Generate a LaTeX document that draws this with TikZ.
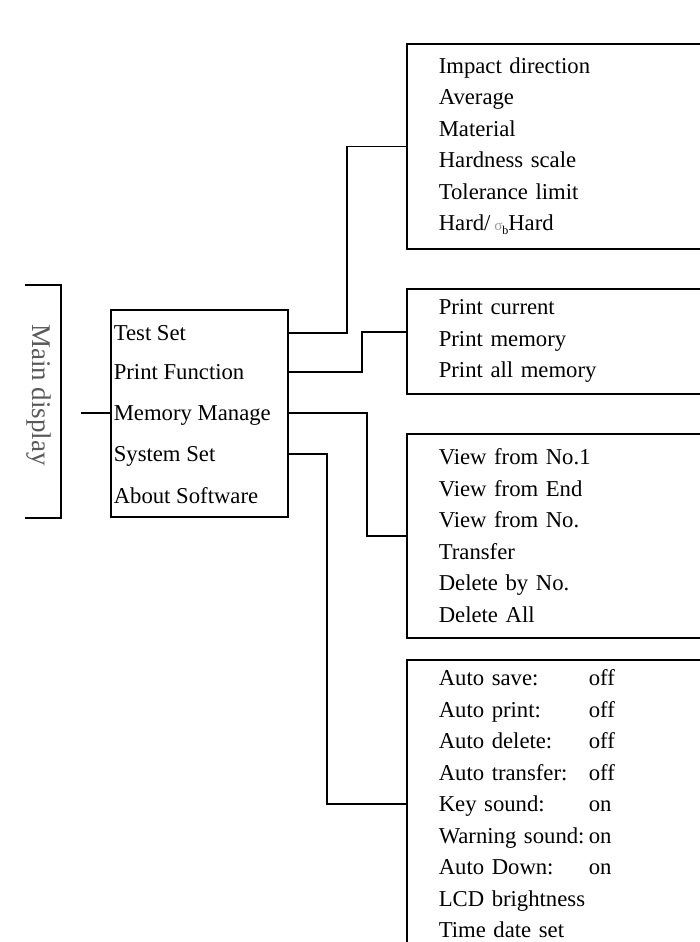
\documentclass[tikz,border=0pt]{standalone}
\usepackage{fontspec}
\setmainfont{Liberation Serif}
\usetikzlibrary{positioning}
\newcommand{\kv}[2]{\makebox[150pt][l]{#1}#2}

\begin{document}
\begin{tikzpicture}[x=1pt,y=-1pt,line width=1.6pt,
	every node/.style={font=\fontsize{22.7}{31.5}\selectfont,inner sep=0pt},
	menubox/.style={draw,anchor=north west,minimum width=177pt,minimum height=207pt},
	row/.style={anchor=west,text height=15.5pt,text depth=0pt},
	subbox/.style={draw,anchor=north west,align=left,text width=250pt,inner xsep=32pt,minimum width=314pt}]
	\useasboundingbox[fill=white] (0,0) rectangle (699,942);
	\node[rotate=-90,text=black!65,font=\fontsize{27}{27}\selectfont] (md) at (39,395) {Main display};
	\draw (25,285) -| (61,518) -- (25,518);
	\node[menubox] (menu) at (110,309) {};
	\node[row] (ts) at (113,333) {Test Set};
	\node[row] (pf) at (113,372) {Print Function};
	\node[row] (mm) at (113,413) {Memory Manage};
	\node[row] (ss) at (113,454) {System Set};
	\node[row] (as) at (113,496) {About Software};
	\coordinate (lead) at (81,413);
	\draw (lead) -- (lead -| menu.west);
	\node[subbox,minimum height=205pt] (tset) at (406,43) {Impact direction\\ Average\\ Material\\ Hardness scale\\ Tolerance limit\\ Hard/\,{\color{black!40}\fontsize{15}{15}\selectfont σ}\raisebox{-4pt}{\fontsize{12}{12}\selectfont b}Hard};
	\node[subbox,minimum height=105pt] (prt) at (406,288) {Print current\\ Print memory\\ Print all memory};
	\node[subbox,minimum height=204pt] (mem) at (406,433) {View from No.1\\ View from End\\ View from No.\\ Transfer\\ Delete by No.\\ Delete All};
	\node[subbox,minimum height=288pt] (sys) at (406,659) {\kv{Auto save:}{off}\\ \kv{Auto print:}{off}\\ \kv{Auto delete:}{off}\\ \kv{Auto transfer:}{off}\\ \kv{Key sound:}{on}\\ \kv{Warning sound:}{on}\\ \kv{Auto Down:}{on}\\ LCD brightness\\ Time date set};
	\coordinate (in1) at (tset.west);
	\coordinate (in2) at ([yshift=9.5pt]prt.west);
	\coordinate (in3) at (mem.west);
	\coordinate (in4) at (sys.west);
	\foreach \r/\k/\i in {ts/347/in1, pf/362/in2, mm/367/in3, ss/327/in4} {\draw (menu.east |- \r) -| (\k,0 |- \i) -- (\i);}
\end{tikzpicture}
\end{document}
